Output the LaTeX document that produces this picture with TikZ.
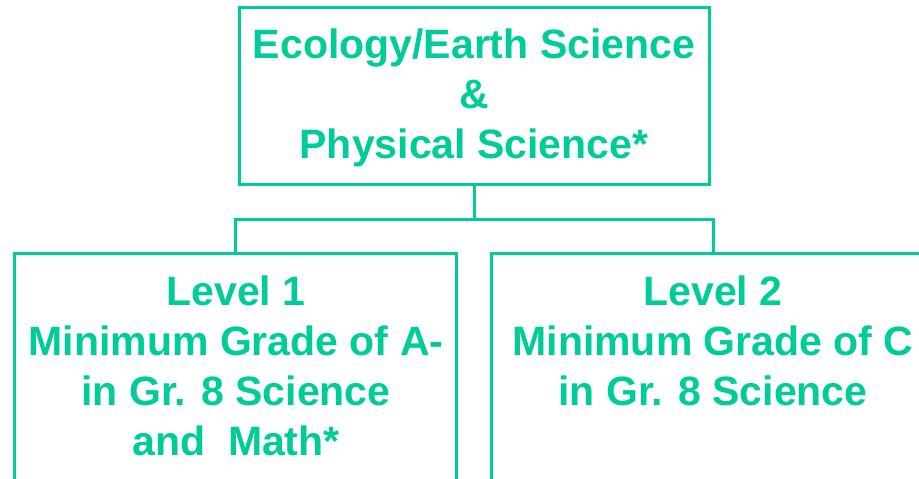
\documentclass[tikz,border=0pt]{standalone}
\usepackage{fontspec}
\setmainfont{Liberation Sans}
\usepackage{tikz}
\usetikzlibrary{positioning}
\definecolor{sciGreen}{RGB}{0,204,153}

\begin{document}
\begin{tikzpicture}[
  x=1pt, y=-1pt,
  line width=3pt,
  % box and text styles
  box/.style={draw=sciGreen, line width=3pt, rectangle, inner sep=0pt},
  lbl/.style={text=sciGreen, align=center, inner sep=0pt,
              font=\bfseries\fontsize{41}{50}\selectfont},
  link/.style={draw=sciGreen, line width=3pt}
]
  % frame of the picture
  \useasboundingbox (0,0) rectangle (919,479);
  \clip (0,0) rectangle (919,479);

  % =============================================================
  % Boxes
  % =============================================================
  \node[box, minimum width=470pt, minimum height=177pt] (topBox) at (474,95.5) {};
  \node[box, minimum width=442pt, minimum height=300pt, anchor=north] (leftBox) at (235,252) {};
  \node[box, minimum width=444pt, minimum height=300pt, anchor=north] (rightBox) at (713,252) {};

  % --- texts (base = last line) ---
  \node[lbl, anchor=base] (topText) at (474,158)
       {Ecology/Earth Science\\\&\\Physical Science*};
  \node[lbl, anchor=base] (leftText) at (236,455)
       {Level 1\\Minimum Grade of A-\\in Gr. 8 Science\\and\ \ Math*};
  \node[lbl, anchor=base] (rightText) at (713,405)
       {Level 2\\Minimum Grade of C\\in Gr. 8 Science};

  % =============================================================
  % Connectors
  % =============================================================
  \draw[link] (topBox.south) -- ++(0,34) coordinate (split) -| (leftBox.north);
  \draw[link] (split) -| (rightBox.north);
\end{tikzpicture}
\end{document}
